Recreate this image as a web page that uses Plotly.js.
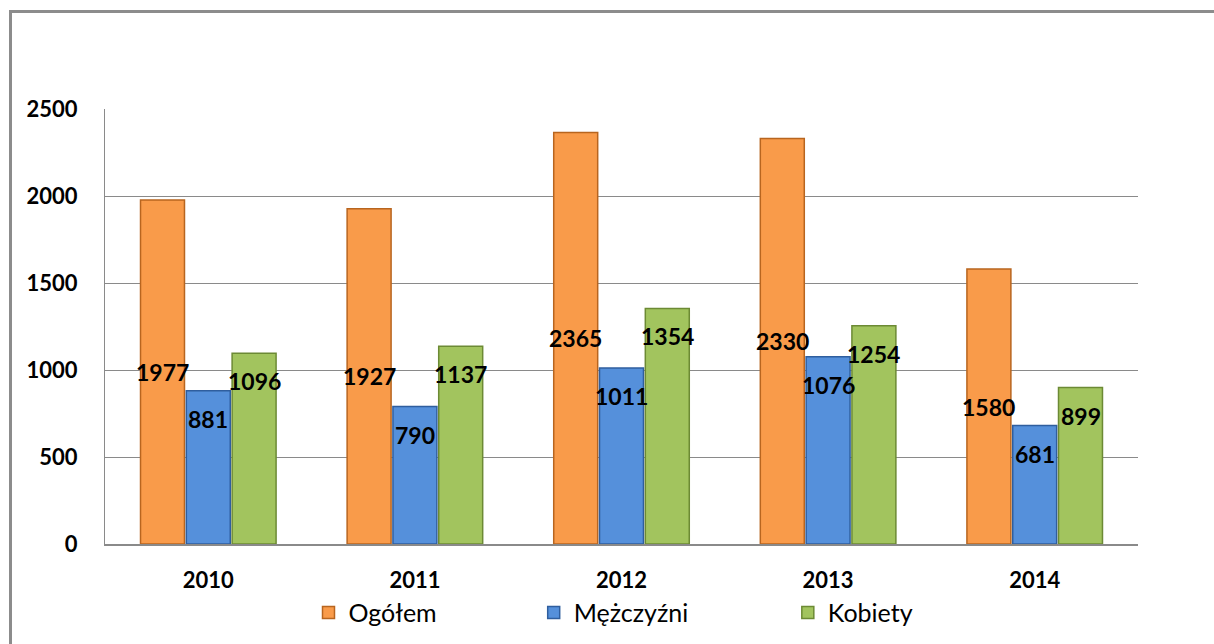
<!DOCTYPE html>
<html>
<head>
<meta charset="utf-8">
<script src="https://cdn.plot.ly/plotly-3.0.1.min.js"></script>
<style>
html,body{margin:0;padding:0;background:#fff;overflow:hidden;}
#chart{width:1214px;height:644px;position:relative;}
#frame{position:absolute;left:9px;top:10px;width:1220px;height:660px;border:3px solid #8c8c8c;pointer-events:none;box-sizing:border-box;}
</style>
</head>
<body>
<div id="chart"></div>
<div id="frame"></div>
<script>
const years = ['2010','2011','2012','2013','2014'];
const ogolem = [1977,1927,2365,2330,1580];
const mezczyzni = [881,790,1011,1076,681];
const kobiety = [1096,1137,1354,1254,899];
const seriesNames = ['Ogółem','Mężczyźni','Kobiety'];

const FONT = 'Lato, "Open Sans", sans-serif';
const bargap = 0.335;
const fills = ['#F99B4A','#5590DB','#A2C45E'];
const edges = ['#B8651F','#2F5E9E','#6C8A34'];
const series = [ogolem, mezczyzni, kobiety];

const traces = series.map((vals,k)=>({
  type:'bar', x:years, y:vals, name:seriesNames[k],
  marker:{color:fills[k], line:{color:edges[k], width:1.5}},
  legend: k===0 ? 'legend' : 'legend'+(k+1),
  hoverinfo:'none'
}));

const slot = (1-bargap)/3;
const annotations = [];
series.forEach((vals,k)=>{
  vals.forEach((v,i)=>{
    annotations.push({
      xref:'x', yref:'y', x: i + (k-1)*slot,
      y: k===0 ? v/2 : v, yshift: k===0 ? 0 : -28,
      text: String(v), showarrow:false,
      font:{family:FONT, size:23, color:'#000', weight:'bold'},
      xanchor:'center', yanchor:'middle'
    });
  });
});

const legendBase = {orientation:'h', y:-0.158, yanchor:'middle', xanchor:'left',
  font:{family:FONT, size:25, color:'#000'}, bgcolor:'rgba(0,0,0,0)', itemclick:false};

const layout = {
  width:1214, height:644,
  margin:{l:105, r:76, t:109, b:100, autoexpand:false},
  paper_bgcolor:'rgba(0,0,0,0)', plot_bgcolor:'#fff',
  barmode:'group', bargap:bargap, bargroupgap:0.04,
  showlegend:true,
  legend: Object.assign({}, legendBase, {x:0.197}),
  legend2: Object.assign({}, legendBase, {x:0.415}),
  legend3: Object.assign({}, legendBase, {x:0.661}),
  xaxis:{type:'category', showgrid:false, showline:true, linecolor:'#8a8a8a', linewidth:2,
    ticks:'', ticklabelstandoff:16, automargin:false,
    tickfont:{family:FONT, size:22, color:'#000', weight:'bold'}},
  yaxis:{range:[0,2500], dtick:500, showgrid:true, gridcolor:'#8a8a8a', gridwidth:1,
    showline:true, linecolor:'#8a8a8a', linewidth:1, zeroline:false, ticks:'',
    ticklabelstandoff:22, automargin:false,
    tickfont:{family:FONT, size:22, color:'#000', weight:'bold'}},
  annotations: annotations
};

Plotly.newPlot('chart', traces, layout, {displayModeBar:false, staticPlot:true});
</script>
</body>
</html>
